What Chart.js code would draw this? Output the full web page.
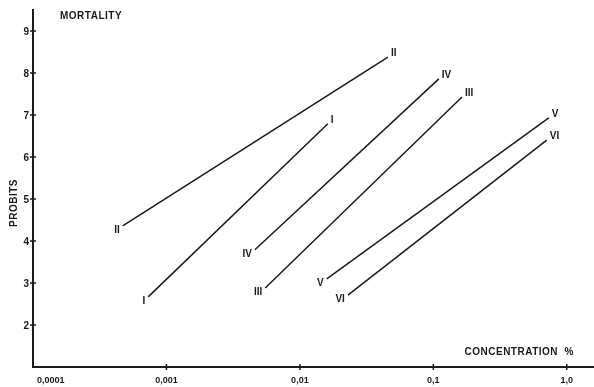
<!DOCTYPE html>
<html>
<head>
<meta charset="utf-8">
<script src="https://cdn.jsdelivr.net/npm/chart.js@4"></script>
<style>
  html, body { margin: 0; padding: 0; background: #fff; }
  #wrap { width: 594px; height: 387px; }
</style>
</head>
<body>
<div id="wrap"><canvas id="probitChart"></canvas></div>
<script>
// Roman numeral names of the six curves
const curveNames = ['I', 'II', 'III', 'IV', 'V', 'VI'];
// concentration % at start and end of each line
const concStart = [0.00073, 0.00047, 0.0055, 0.0046, 0.0159, 0.0229];
const concEnd = [0.0162, 0.0457, 0.164, 0.110, 0.733, 0.708];
// probits at start and end of each line
const probitStart = [2.67, 4.36, 2.88, 3.79, 3.10, 2.71];
const probitEnd = [6.79, 8.38, 7.43, 7.86, 6.93, 6.40];
// axis ticks
const xTicks = [0.0001, 0.001, 0.01, 0.1, 1.0];
const xTickLabels = ['0,0001', '0,001', '0,01', '0,1', '1,0'];
const yTicks = [2, 3, 4, 5, 6, 7, 8, 9];

const ink = '#1a1a1a';
const boldFont = 'bold 10px "Liberation Sans", Arial, sans-serif';

const datasets = curveNames.map((name, i) => ({
  label: name,
  data: [
    { x: concStart[i], y: probitStart[i] },
    { x: concEnd[i], y: probitEnd[i] }
  ],
  showLine: true,
  borderColor: ink,
  borderWidth: 1.5,
  pointRadius: 0,
  fill: false
}));

// texts and labels drawn on the canvas
const textPlugin = {
  id: 'textPlugin',
  afterDraw(chart) {
    const ctx = chart.ctx;
    const area = chart.chartArea;
    const xs = chart.scales.x;
    const ys = chart.scales.y;
    ctx.save();
    ctx.fillStyle = ink;
    ctx.strokeStyle = ink;

    // line end labels
    ctx.font = boldFont;
    ctx.textBaseline = 'middle';
    chart.data.datasets.forEach((ds, i) => {
      const meta = chart.getDatasetMeta(i);
      const p0 = meta.data[0], p1 = meta.data[1];
      ctx.textAlign = 'right';
      ctx.fillText(ds.label, p0.x - 3, p0.y + 4);
      ctx.textAlign = 'left';
      ctx.fillText(ds.label, p1.x + 3, p1.y - 4);
    });

    // x tick marks and labels
    ctx.lineWidth = 1.5;
    ctx.font = 'bold 9px "Liberation Sans", Arial, sans-serif';
    xTicks.forEach((v, i) => {
      const px = xs.getPixelForValue(v);
      if (i > 0) {
        ctx.beginPath();
        ctx.moveTo(px, area.bottom - 3);
        ctx.lineTo(px, area.bottom + 3);
        ctx.stroke();
      }
      ctx.textAlign = i === 0 ? 'left' : 'center';
      ctx.fillText(xTickLabels[i], i === 0 ? px + 4 : px, area.bottom + 14);
    });

    // y tick marks and labels
    ctx.font = boldFont;
    yTicks.forEach(v => {
      const py = ys.getPixelForValue(v);
      ctx.beginPath();
      ctx.moveTo(area.left - 3, py);
      ctx.lineTo(area.left + 3, py);
      ctx.stroke();
      ctx.textAlign = 'right';
      ctx.fillText(String(v), area.left - 4, py + 1);
    });

    // titles
    ctx.font = boldFont;
    ctx.letterSpacing = '0.5px';
    ctx.textAlign = 'left';
    ctx.fillText('MORTALITY', area.left + 27, area.top + 6);
    ctx.textAlign = 'right';
    ctx.fillText('CONCENTRATION  %', area.right - 20, area.bottom - 15);
    ctx.translate(14, 203);
    ctx.rotate(-Math.PI / 2);
    ctx.textAlign = 'center';
    ctx.fillText('PROBITS', 0, 0);
    ctx.restore();
  }
};

const ctx = document.getElementById('probitChart').getContext('2d');
new Chart(ctx, {
  type: 'scatter',
  data: { datasets: datasets },
  options: {
    responsive: true,
    maintainAspectRatio: false,
    animation: false,
    layout: { padding: { top: 10, right: 0, left: 0, bottom: 0 } },
    plugins: {
      legend: { display: false },
      tooltip: { enabled: false }
    },
    scales: {
      x: {
        type: 'logarithmic',
        min: 0.0001,
        max: 1.6,
        afterFit(scale) { scale.height = 20; },
        afterBuildTicks(scale) { scale.ticks = xTicks.map(v => ({ value: v })); },
        ticks: { display: false },
        grid: { display: false },
        border: { color: ink, width: 2 }
      },
      y: {
        min: 1,
        max: 9.5,
        afterFit(scale) { scale.width = 33; },
        afterBuildTicks(scale) { scale.ticks = yTicks.map(v => ({ value: v })); },
        ticks: { display: false },
        grid: { display: false },
        border: { color: ink, width: 2 }
      }
    }
  },
  plugins: [textPlugin]
});
</script>
</body>
</html>
